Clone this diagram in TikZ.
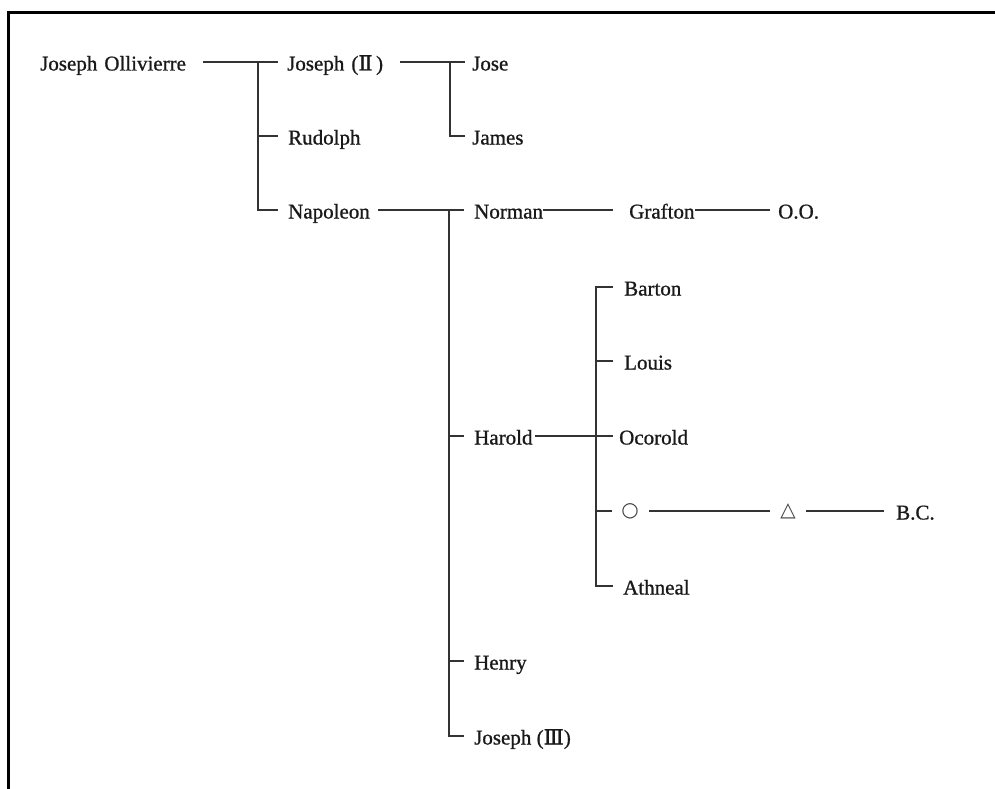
\documentclass[tikz,border=0pt]{standalone}
\usepackage{fontspec}
\setmainfont{Liberation Serif}[FakeBold=0.9]
\newfontfamily\symfont{DejaVu Sans}
\newfontfamily\numfont{DejaVu Serif}[FakeBold=0.9]
\begin{document}
\begin{tikzpicture}[x=1pt,y=-1pt,
  person/.style={anchor=west,inner sep=0pt,text height=20pt,text depth=3pt,
    font=\fontsize{21}{25}\selectfont,text=black!90},
  wide/.style={text width=#1,align=left},
  sym/.style={anchor=center,inner sep=0pt,minimum width=16pt,
    font=\symfont\fontsize{20}{24}\selectfont,text=black!75},
  link/.style={line width=1.4pt,draw=black!80},
  frame/.style={line width=3pt,draw=black}]
\useasboundingbox (0,0) rectangle (995,789);
\draw[frame] (8.5,789) -- (8.5,13) -- (995,13);

% people
\node[person,wide=150pt] (jo) at (40,62) {Joseph Ollivierre};
\node[person,wide=100pt] (j2) at (287,62) {Joseph ({\numfont Ⅱ}\,)};
\node[person] (rud) at (288,136) {Rudolph};
\node[person,wide=85pt] (nap) at (288,210) {Napoleon};
\node[person] (jose) at (472,62) {Jose};
\node[person] (james) at (472,136) {James};
\node[person,wide=69pt] (norman) at (474,210) {Norman};
\node[person,wide=66pt] (grafton) at (629,210) {Grafton};
\node[person] (oo) at (778,210) {O.O.};
\node[person] (barton) at (624,287) {Barton};
\node[person] (louis) at (624,361) {Louis};
\node[person,wide=59pt] (harold) at (474,436) {Harold};
\node[person] (ocor) at (619,436) {Ocorold};
\node[sym] (circ) at (630,511) {○};
\node[sym] (tri) at (788,511) {△};
\node[person] (bc) at (896,511) {B.C.};
\node[person] (athn) at (623,586) {Athneal};
\node[person] (henry) at (474,661) {Henry};
\node[person] (j3) at (474,736) {Joseph ({\numfont Ⅲ})};

% branch points
\coordinate (busA) at (258,62);
\coordinate (busB) at (450,62);
\coordinate (busC) at (449,210);
\coordinate (busD) at (596,287);

% connectors
\draw[link] ([xshift=13pt]jo.east) -- ([xshift=-9pt]j2.west);
\draw[link] (busA) |- ([xshift=-10pt]nap.west);
\draw[link] (busA |- rud.west) -- ([xshift=-10pt]rud.west);

\draw[link] ([xshift=13pt]j2.east) -- ([xshift=-7pt]jose.west);
\draw[link] (busB) |- ([xshift=-7pt]james.west);

\draw[link] ([xshift=5pt]nap.east) -- ([xshift=-10pt]norman.west);
\draw[link] (busC) |- ([xshift=-10pt]j3.west);
\draw[link] (busC |- harold.west) -- ([xshift=-10pt]harold.west);
\draw[link] (busC |- henry.west) -- ([xshift=-10pt]henry.west);

\draw[link] (norman.east) -- ([xshift=-16pt]grafton.west);
\draw[link] (grafton.east) -- ([xshift=-8pt]oo.west);

\draw[link] ([xshift=2pt]harold.east) -- ([xshift=-6pt]ocor.west);
\draw[link] ([xshift=-11pt]barton.west) -- (busD) |- ([xshift=-10pt]athn.west);
\draw[link] (busD |- louis.west) -- ([xshift=-11pt]louis.west);
\draw[link] (busD |- circ.west) -- ([xshift=-9pt]circ.west);
\draw[link] ([xshift=10pt]circ.east) -- ([xshift=-10pt]tri.west);
\draw[link] ([xshift=10pt]tri.east) -- ([xshift=-12pt]bc.west);
\end{tikzpicture}
\end{document}
